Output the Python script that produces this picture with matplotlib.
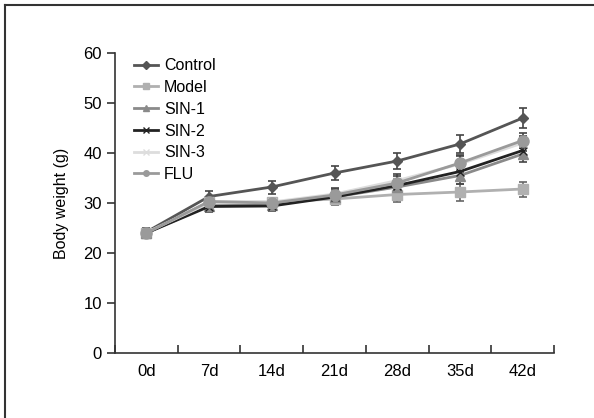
import matplotlib
matplotlib.use("Agg")
import matplotlib.pyplot as plt
from matplotlib.lines import Line2D
import numpy as np

plt.rcParams['font.family'] = ['Liberation Sans', 'DejaVu Sans']

days = ["0d", "7d", "14d", "21d", "28d", "35d", "42d"]
control = [24.2, 31.3, 33.2, 36.0, 38.4, 41.8, 47.0]
control_err = [0.8, 1.2, 1.3, 1.4, 1.6, 1.8, 2.0]
model = [24.0, 30.2, 30.2, 30.8, 31.7, 32.2, 32.8]
model_err = [0.8, 1.0, 0.9, 1.2, 1.5, 1.7, 1.5]
sin1 = [24.0, 29.5, 29.7, 31.2, 33.2, 35.5, 39.8]
sin1_err = [0.8, 1.0, 0.9, 1.2, 1.4, 1.6, 1.5]
sin2 = [24.0, 29.3, 29.4, 31.2, 33.5, 36.3, 40.5]
sin2_err = [0.8, 1.0, 0.9, 1.2, 1.4, 1.6, 1.5]
sin3 = [24.1, 30.0, 30.2, 31.8, 34.5, 37.8, 42.0]
sin3_err = [0.8, 1.0, 0.9, 1.2, 1.4, 1.6, 1.5]
flu = [24.0, 30.3, 30.0, 31.6, 34.0, 38.0, 42.5]
flu_err = [0.8, 1.0, 0.9, 1.2, 1.4, 1.6, 1.5]

series = [
    ("Control", control, control_err, "#555555", "D", 5),
    ("Model", model, model_err, "#b0b0b0", "s", 7),
    ("SIN-1", sin1, sin1_err, "#8a8a8a", "^", 7),
    ("SIN-2", sin2, sin2_err, "#222222", "x", 6),
    ("SIN-3", sin3, sin3_err, "#dddddd", "x", 6),
    ("FLU", flu, flu_err, "#9a9a9a", "o", 8),
]

fig = plt.figure(figsize=(5.94, 4.18), dpi=100)
ax = fig.add_axes([0.1936, 0.1555, 0.7391, 0.7177])

x = np.arange(len(days))
handles = []
for name, vals, err, col, mk, ms in series:
    ax.errorbar(x, vals, yerr=err, color=col, marker=mk, markersize=ms,
                linewidth=2, capsize=3, capthick=1.2, elinewidth=1.2,
                ecolor="#444444" if name != "Model" else "#666666", zorder=3)
    handles.append(Line2D([0], [0], color=col, marker=mk, markersize=4, linewidth=2))

ax.set_xlim(-0.5, len(days) - 0.5)
ax.set_ylim(0, 60)
ax.set_yticks([0, 10, 20, 30, 40, 50, 60])
ax.set_xticks(np.arange(-0.5, len(days), 1.0))
ax.set_xticklabels([])
ax.set_xticks(x, minor=True)
ax.set_xticklabels(days, minor=True)
ax.tick_params(axis='x', which='minor', length=0, pad=8, labelsize=12)
ax.tick_params(axis='x', which='major', direction='in', length=6, width=1.2, color="#333333")
ax.tick_params(axis='y', direction='out', length=6, width=1.2, labelsize=12, color="#333333")
for s in ['top', 'right']:
    ax.spines[s].set_visible(False)
for s in ['left', 'bottom']:
    ax.spines[s].set_linewidth(1.2)
    ax.spines[s].set_color("#333333")
ax.set_ylabel("Body weight (g)", fontsize=11.5, labelpad=10)

leg = ax.legend(handles, [s[0] for s in series], loc='upper left',
                bbox_to_anchor=(0.01, 1.03), frameon=False, fontsize=11.5,
                handlelength=1.5, labelspacing=0.42, handletextpad=0.4)

fig.add_artist(Line2D([5/594, 1.0], [1 - 5/418, 1 - 5/418], color="#333333", linewidth=1.5, transform=fig.transFigure))
fig.add_artist(Line2D([5/594, 5/594], [0, 1 - 5/418], color="#333333", linewidth=1.5, transform=fig.transFigure))

fig.savefig("out.png", dpi=100)
